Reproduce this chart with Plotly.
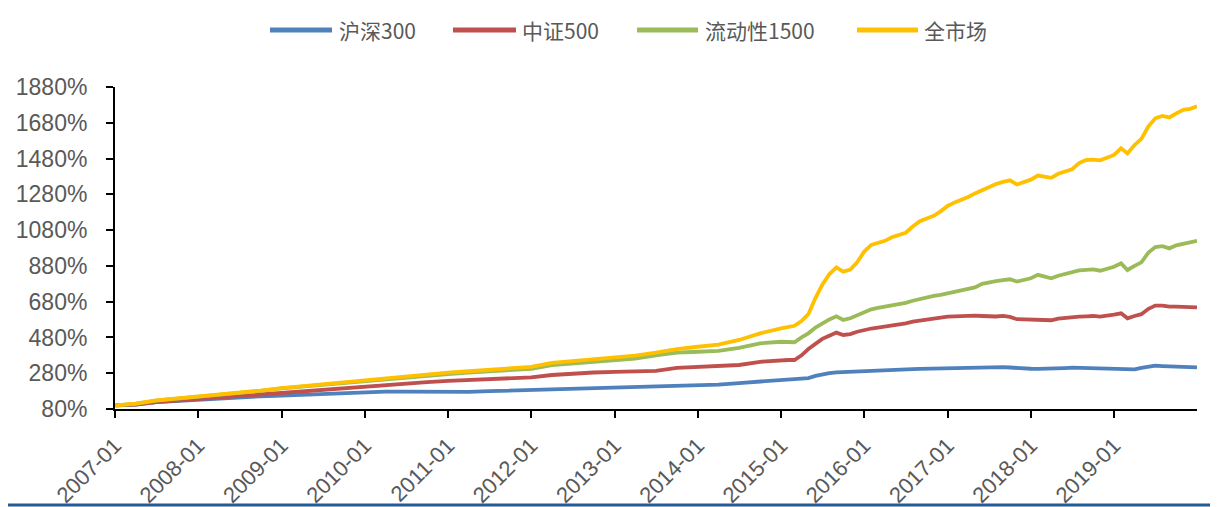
import plotly.graph_objects as go

# ---- data (in %) ----
dates = [
    "2007-01-04", "2007-04-01", "2007-07-01", "2007-10-01",
    "2008-01-01", "2008-04-01", "2008-07-01", "2008-10-01",
    "2009-01-01", "2009-04-01", "2009-07-01", "2009-10-01",
    "2010-01-01", "2010-04-01", "2010-07-01", "2010-10-01",
    "2011-01-01", "2011-04-01", "2011-07-01", "2011-10-01",
    "2012-01-01", "2012-04-01", "2012-07-01", "2012-10-01",
    "2013-01-01", "2013-04-01", "2013-07-01", "2013-10-01",
    "2014-01-01", "2014-04-01", "2014-07-01", "2014-10-01",
    "2015-01-01", "2015-02-01", "2015-03-01", "2015-04-01", "2015-05-01", "2015-06-01",
    "2015-07-01", "2015-08-01", "2015-09-01", "2015-10-01", "2015-11-01", "2015-12-01",
    "2016-01-01", "2016-02-01", "2016-03-01", "2016-04-01", "2016-05-01", "2016-06-01",
    "2016-07-01", "2016-08-01", "2016-09-01", "2016-10-01", "2016-11-01", "2016-12-01",
    "2017-01-01", "2017-02-01", "2017-03-01", "2017-04-01", "2017-05-01", "2017-06-01",
    "2017-07-01", "2017-08-01", "2017-09-01", "2017-10-01", "2017-11-01", "2017-12-01",
    "2018-01-01", "2018-02-01", "2018-03-01", "2018-04-01", "2018-05-01", "2018-06-01",
    "2018-07-01", "2018-08-01", "2018-09-01", "2018-10-01", "2018-11-01", "2018-12-01",
    "2019-01-01", "2019-02-01", "2019-03-01", "2019-04-01", "2019-05-01", "2019-06-01",
    "2019-07-01", "2019-08-01", "2019-09-01", "2019-10-01", "2019-11-01", "2019-12-01",
    "2019-12-31",
]

hs300 = [
    100, 105, 118, 125, 133, 140, 146, 151, 155, 160, 165, 170,
    174, 177, 177, 175, 173, 176, 180, 183, 186, 190, 193, 198,
    201, 203, 205, 208, 211, 216, 225, 233,
    242, 244, 246, 250, 253, 265, 274, 280, 285, 287, 288, 291,
    294, 294, 296, 298, 299, 300, 302, 303, 304, 305, 307, 309,
    311, 312, 313, 314, 315, 316, 316, 315, 314, 312, 308, 306,
    305, 304, 304, 305, 307, 309, 311, 310, 309, 308, 307, 306,
    304, 302, 298, 302, 310, 318, 322, 320, 318, 316, 314, 313,
    313,
]

zz500 = [
    100, 105, 118, 127, 136, 143, 152, 160, 168, 178, 188, 198,
    207, 214, 220, 230, 237, 243, 248, 252, 257, 270, 278, 284,
    288, 292, 293, 310, 316, 322, 326, 344,
    354, 354, 354, 380, 415, 445, 472, 490, 507, 494, 499, 512,
    522, 530, 535, 540, 548, 555, 559, 568, 574, 580, 585, 590,
    596, 598, 600, 601, 602, 600, 598, 597, 600, 595, 582, 580,
    582, 580, 578, 576, 585, 590, 593, 596, 598, 600, 596, 600,
    608, 615, 587, 600, 610, 640, 658, 658, 652, 652, 650, 648,
    648,
]

liq1500 = [
    100, 109, 127, 137, 150, 160, 170, 181, 195, 205, 217, 228,
    238, 248, 257, 266, 275, 283, 291, 298, 305, 325, 335, 343,
    350, 362, 380, 395, 400, 405, 422, 447,
    456, 455, 453, 480, 503, 535, 558, 581, 598, 578, 587, 605,
    624, 637, 645, 652, 660, 668, 673, 685, 695, 705, 712, 718,
    727, 738, 745, 752, 760, 780, 790, 795, 800, 805, 792, 800,
    811, 830, 820, 811, 825, 835, 842, 855, 858, 860, 853, 865,
    875, 894, 857, 880, 900, 955, 985, 990, 978, 995, 1005, 1012,
    1020,
]

allmkt = [
    100, 110, 128, 138, 152, 162, 172, 183, 197, 208, 220, 232,
    242, 252, 262, 272, 283, 291, 300, 308, 316, 338, 348, 356,
    363, 378, 395, 415, 428, 440, 466, 503,
    531, 538, 545, 572, 610, 700, 775, 833, 872, 848, 860, 900,
    960, 997, 1006, 1020, 1040, 1055, 1065, 1100, 1130, 1145, 1160, 1185,
    1215, 1235, 1248, 1265, 1285, 1304, 1320, 1338, 1350, 1358, 1335, 1350,
    1362, 1385, 1380, 1372, 1395, 1410, 1420, 1455, 1472, 1474, 1470, 1485,
    1500, 1537, 1509, 1556, 1590, 1660, 1705, 1718, 1710, 1733, 1752, 1758,
    1772,
]

series_names = ["沪深300", "中证500", "流动性1500", "全市场"]
series_values = [hs300, zz500, liq1500, allmkt]
series_colors = ["#4F81BD", "#C0504D", "#9BBB59", "#FFC000"]

x_tick_vals = ["2007-01-01", "2008-01-01", "2009-01-01", "2010-01-01", "2011-01-01",
               "2012-01-01", "2013-01-01", "2014-01-01", "2015-01-01", "2016-01-01",
               "2017-01-01", "2018-01-01", "2019-01-01"]
x_tick_text = ["2007-01", "2008-01", "2009-01", "2010-01", "2011-01", "2012-01", "2013-01",
               "2014-01", "2015-01", "2016-01", "2017-01", "2018-01", "2019-01"]
y_tick_vals = [80, 280, 480, 680, 880, 1080, 1280, 1480, 1680, 1880]
y_tick_text = [f"{v}%" for v in y_tick_vals]

# ---- layout geometry (page has an 8px body margin) ----
FIG_W, FIG_H = 1210, 499
ML, MT, MR, MB = 107, 79, 21, 98
PW = FIG_W - ML - MR   # plot width
PH = FIG_H - MT - MB   # plot height


def px_x(page_x):
    return (page_x - 8 - ML) / PW


def px_y(page_y):
    return (MT + PH - (page_y - 8)) / PH


fig = go.Figure()
for name, vals, col in zip(series_names, series_values, series_colors):
    fig.add_trace(go.Scatter(
        x=dates, y=vals, name=name, mode="lines",
        line=dict(color=col, width=3.8),
    ))

txt_color = "#595959"
num_font = "Liberation Sans, Arial, sans-serif"

fig.update_layout(
    width=FIG_W, height=FIG_H,
    margin=dict(l=ML, r=MR, t=MT, b=MB),
    paper_bgcolor="white", plot_bgcolor="white",
    showlegend=False,
    xaxis=dict(
        type="date", range=["2007-01-01", "2019-12-31"],
        tickvals=x_tick_vals, ticktext=x_tick_text, tickangle=-45,
        showgrid=False, zeroline=False, automargin=False,
        showline=True, linecolor="black", linewidth=2,
        ticks="outside", ticklen=7, tickwidth=2, tickcolor="black",
        ticklabelstandoff=6,
        tickfont=dict(family=num_font, size=22, color=txt_color),
    ),
    yaxis=dict(
        range=[80, 1880], tickvals=y_tick_vals, ticktext=y_tick_text,
        showgrid=False, zeroline=False, automargin=False,
        showline=True, linecolor="black", linewidth=2,
        ticks="outside", ticklen=7, tickwidth=2, tickcolor="black",
        ticklabelstandoff=14,
        tickfont=dict(family=num_font, size=23, color=txt_color),
    ),
)

# custom legend (long line samples like the reference)
legend_line_x = [(270, 332), (453, 516), (637, 698), (857, 918)]
legend_text_x = [337, 520, 703, 922]
leg_y = px_y(30)
for name, col, (lx0, lx1), tx in zip(series_names, series_colors, legend_line_x, legend_text_x):
    fig.add_shape(type="line", xref="paper", yref="paper",
                  x0=px_x(lx0), x1=px_x(lx1), y0=leg_y, y1=leg_y,
                  line=dict(color=col, width=5))
    fig.add_annotation(xref="paper", yref="paper", x=px_x(tx), y=leg_y,
                       xanchor="left", yanchor="middle", showarrow=False,
                       text=name,
                       font=dict(family="Noto Sans CJK SC, sans-serif", size=21, color=txt_color))

# bottom decorative blue rule
fig.add_shape(type="line", xref="paper", yref="paper",
              x0=px_x(8), x1=px_x(1218), y0=px_y(505), y1=px_y(505),
              line=dict(color="#1F5C99", width=3))

fig.write_html("out.html")
